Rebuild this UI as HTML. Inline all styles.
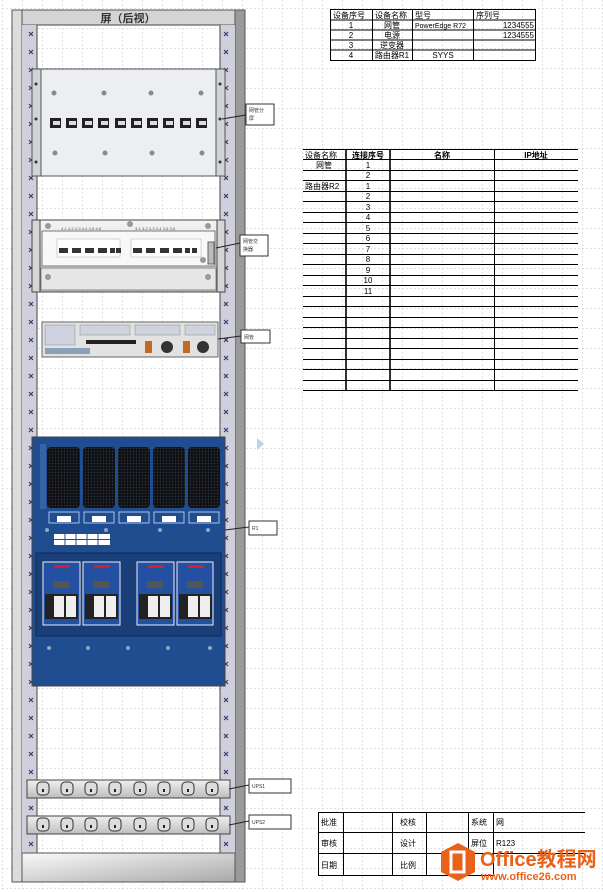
<!DOCTYPE html>
<html><head><meta charset="utf-8"><style>
html,body{margin:0;padding:0;background:#fff;width:603px;height:892px;overflow:hidden}
svg{display:block}
text{font-family:"Liberation Sans","Noto Sans CJK SC",sans-serif}
</style></head><body>
<svg width="603" height="892" viewBox="0 0 603 892" xmlns="http://www.w3.org/2000/svg">
<defs>
<pattern id="grid" x="2" y="8" width="20" height="20" patternUnits="userSpaceOnUse">
<path d="M0 0H20M0 0V20" stroke="#c4c4c4" stroke-width="1" stroke-dasharray="2,2" fill="none"/>
</pattern>
<pattern id="xmL" x="26" y="25" width="10" height="18" patternUnits="userSpaceOnUse">
<path d="M3 7L7 11M7 7L3 11" stroke="#3a3a6a" stroke-width="1.2"/>
</pattern>
<pattern id="xmR" x="221" y="25" width="10" height="18" patternUnits="userSpaceOnUse">
<path d="M3 7L7 11M7 7L3 11" stroke="#3a3a6a" stroke-width="1.2"/>
</pattern>
<pattern id="mesh" width="3" height="3" patternUnits="userSpaceOnUse">
<rect width="3" height="3" fill="#111"/><circle cx="1.5" cy="1.5" r="0.7" fill="#2b3550"/>
</pattern>
<linearGradient id="base" x1="0" y1="0" x2="1" y2="1"><stop offset="0" stop-color="#fafafa"/><stop offset="1" stop-color="#a9a9a9"/></linearGradient>
<linearGradient id="pdu" x1="0" y1="0" x2="0" y2="1"><stop offset="0" stop-color="#f0f0f0"/><stop offset="1" stop-color="#bdbdbd"/></linearGradient>
<linearGradient id="sw" x1="0" y1="0" x2="0" y2="1"><stop offset="0" stop-color="#f4f4f4"/><stop offset="1" stop-color="#c8c8c8"/></linearGradient>
</defs>
<rect width="603" height="892" fill="url(#grid)"/>

<!-- Rack -->
<rect x="12" y="10" width="233" height="872" fill="#c8c8c8" stroke="#555" stroke-width="1"/>
<rect x="12" y="10" width="10" height="872" fill="#dcdcdc" stroke="#555"/>
<rect x="235" y="10" width="10" height="872" fill="#9a9a9a" stroke="#555"/>
<rect x="22" y="10" width="213" height="15" fill="#d4d4d4" stroke="#555"/>
<text x="128" y="22" font-size="11" font-weight="bold" text-anchor="middle" fill="#333">屏（后视）</text>
<rect x="37" y="25" width="183" height="828" fill="#fff" stroke="#444"/>
<rect x="37" y="25" width="183" height="828" fill="url(#grid)"/>
<rect x="22" y="25" width="15" height="828" fill="#cfd0dc"/>
<rect x="220" y="25" width="15" height="828" fill="#cfd0dc"/>
<rect x="26" y="25" width="10" height="828" fill="url(#xmL)"/>
<rect x="221" y="25" width="10" height="828" fill="url(#xmR)"/>
<line x1="37" y1="25" x2="37" y2="853" stroke="#444"/><line x1="220" y1="25" x2="220" y2="853" stroke="#444"/>
<rect x="22" y="853" width="213" height="29" fill="url(#base)" stroke="#555"/>

<!-- Panel 1 -->
<rect x="32" y="69" width="193" height="107" fill="#d0d3d8" stroke="#555"/>
<rect x="41" y="69" width="175" height="107" fill="#eceef2" stroke="#555"/>
<g fill="#8a8a8a">
<circle cx="54" cy="93" r="2.5"/><circle cx="104" cy="93" r="2.5"/><circle cx="151" cy="93" r="2.5"/><circle cx="201" cy="93" r="2.5"/>
<circle cx="55" cy="153" r="2.5"/><circle cx="105" cy="153" r="2.5"/><circle cx="152" cy="153" r="2.5"/><circle cx="202" cy="153" r="2.5"/>
</g>
<g fill="#333"><circle cx="36" cy="84" r="1.5"/><circle cx="36" cy="119" r="1.5"/><circle cx="36" cy="162" r="1.5"/><circle cx="220" cy="84" r="1.5"/><circle cx="220" cy="119" r="1.5"/><circle cx="220" cy="162" r="1.5"/></g>
<g fill="#222">
<rect x="50" y="118" width="11" height="10"/><rect x="66" y="118" width="11" height="10"/><rect x="82" y="118" width="11" height="10"/><rect x="98" y="118" width="11" height="10"/><rect x="115" y="118" width="11" height="10"/><rect x="131" y="118" width="11" height="10"/><rect x="147" y="118" width="11" height="10"/><rect x="163" y="118" width="11" height="10"/><rect x="180" y="118" width="11" height="10"/><rect x="196" y="118" width="11" height="10"/>
</g>
<g fill="#ddd">
<rect x="53" y="121" width="7" height="4"/><rect x="69" y="121" width="7" height="4"/><rect x="85" y="121" width="7" height="4"/><rect x="101" y="121" width="7" height="4"/><rect x="118" y="121" width="7" height="4"/><rect x="134" y="121" width="7" height="4"/><rect x="150" y="121" width="7" height="4"/><rect x="166" y="121" width="7" height="4"/><rect x="183" y="121" width="7" height="4"/><rect x="199" y="121" width="7" height="4"/>
</g>
<line x1="222" y1="119" x2="246" y2="115" stroke="#222"/>
<rect x="246" y="104" width="28" height="21" fill="#fff" stroke="#333"/>
<text x="249" y="112" font-size="5" fill="#333">网管分</text><text x="249" y="120" font-size="5" fill="#333">屏</text>

<!-- Switch -->
<rect x="32" y="220" width="193" height="72" fill="#d6d6d6" stroke="#444"/>
<rect x="40" y="220" width="177" height="72" fill="url(#sw)" stroke="#444"/>
<rect x="42" y="231" width="173" height="35" fill="#f8f8f8" stroke="#777"/>
<rect x="41" y="268" width="175" height="22" fill="#e6e6e6" stroke="#888"/>
<g fill="#999"><circle cx="48" cy="226" r="3"/><circle cx="130" cy="224" r="3"/><circle cx="208" cy="226" r="3"/><circle cx="48" cy="277" r="3"/><circle cx="208" cy="277" r="3"/><circle cx="203" cy="260" r="3"/></g>
<g font-size="4" fill="#555"><text x="61" y="230">4-1 4-2 4-3 4-4 4-5 4-6</text><text x="135" y="230">3-1 3-2 3-3 3-4 3-5 3-6</text></g>
<g fill="#fff" stroke="#aaa" stroke-width="0.5"><rect x="57" y="239" width="63" height="18"/><rect x="131" y="239" width="70" height="18"/></g>
<g fill="#333">
<rect x="59" y="248" width="9" height="5"/><rect x="72" y="248" width="9" height="5"/><rect x="85" y="248" width="9" height="5"/><rect x="98" y="248" width="9" height="5"/><rect x="110" y="248" width="5" height="5"/><rect x="116" y="248" width="5" height="5"/>
<rect x="133" y="248" width="9" height="5"/><rect x="146" y="248" width="9" height="5"/><rect x="160" y="248" width="9" height="5"/><rect x="173" y="248" width="9" height="5"/><rect x="185" y="248" width="5" height="5"/><rect x="192" y="248" width="5" height="5"/>
</g>
<rect x="208" y="242" width="6" height="22" fill="#bbb" stroke="#666"/>
<line x1="216" y1="248" x2="240" y2="243" stroke="#222"/>
<rect x="240" y="235" width="28" height="21" fill="#fff" stroke="#333"/>
<text x="243" y="243" font-size="5" fill="#333">网管交</text><text x="243" y="251" font-size="5" fill="#333">换器</text>

<!-- Server -->
<rect x="42" y="322" width="176" height="35" fill="#e2e2e2" stroke="#666"/>
<g fill="#cfd3e0" stroke="#888" stroke-width="0.5">
<rect x="45" y="325" width="30" height="20"/><rect x="80" y="325" width="50" height="10"/><rect x="135" y="325" width="45" height="10"/><rect x="185" y="325" width="30" height="10"/>
</g>
<rect x="86" y="340" width="50" height="4" fill="#222"/>
<rect x="45" y="348" width="45" height="6" fill="#8aa0b8"/>
<g fill="#c46a20"><rect x="145" y="341" width="7" height="12"/><rect x="183" y="341" width="7" height="12"/></g>
<g fill="#333"><circle cx="167" cy="347" r="6"/><circle cx="203" cy="347" r="6"/></g>
<line x1="218" y1="339" x2="241" y2="336" stroke="#222"/>
<rect x="241" y="330" width="29" height="13" fill="#fff" stroke="#333"/>
<text x="244" y="339" font-size="5" fill="#333">网管</text>

<!-- Blue power unit -->
<rect x="32" y="437" width="193" height="249" fill="#1f4d8f" stroke="#444"/>
<rect x="40" y="444" width="6" height="65" fill="#3463a8"/>
<g fill="url(#mesh)">
<rect x="47" y="447" width="33" height="61" rx="4"/><rect x="83" y="447" width="32" height="61" rx="4"/><rect x="118" y="447" width="32" height="61" rx="4"/><rect x="153" y="447" width="32" height="61" rx="4"/><rect x="188" y="447" width="32" height="61" rx="4"/>
</g>
<g fill="none" stroke="#a8c4ec" stroke-width="1">
<rect x="49" y="512" width="30" height="11"/><rect x="84" y="512" width="30" height="11"/><rect x="119" y="512" width="30" height="11"/><rect x="154" y="512" width="30" height="11"/><rect x="189" y="512" width="30" height="11"/>
</g>
<g fill="#fff"><rect x="57" y="516" width="14" height="6"/><rect x="92" y="516" width="14" height="6"/><rect x="127" y="516" width="14" height="6"/><rect x="162" y="516" width="14" height="6"/><rect x="197" y="516" width="14" height="6"/></g>
<rect x="54" y="534" width="56" height="11" fill="#fff"/>
<g stroke="#1f4d8f" stroke-width="1"><line x1="54" y1="539.5" x2="110" y2="539.5"/><line x1="65" y1="534" x2="65" y2="545"/><line x1="76" y1="534" x2="76" y2="545"/><line x1="87" y1="534" x2="87" y2="545"/><line x1="98" y1="534" x2="98" y2="545"/></g>
<rect x="36" y="553" width="185" height="83" fill="#1a3f78" stroke="#0f2a55"/>
<g fill="#2350a0" stroke="#e8eef8" stroke-width="1">
<rect x="43" y="562" width="37" height="63"/><rect x="83" y="562" width="37" height="63"/><rect x="137" y="562" width="37" height="63"/><rect x="177" y="562" width="36" height="63"/>
</g>
<g fill="#d02030"><rect x="54" y="565" width="16" height="3"/><rect x="94" y="565" width="16" height="3"/><rect x="148" y="565" width="16" height="3"/><rect x="188" y="565" width="16" height="3"/></g>
<g fill="#555"><rect x="53" y="581" width="16" height="7"/><rect x="93" y="581" width="16" height="7"/><rect x="147" y="581" width="16" height="7"/><rect x="187" y="581" width="16" height="7"/></g>
<g fill="#222"><rect x="45" y="594" width="33" height="25"/><rect x="85" y="594" width="33" height="25"/><rect x="139" y="594" width="33" height="25"/><rect x="179" y="594" width="33" height="25"/></g>
<g fill="#eee">
<rect x="54" y="596" width="10" height="21"/><rect x="66" y="596" width="10" height="21"/><rect x="94" y="596" width="10" height="21"/><rect x="106" y="596" width="10" height="21"/><rect x="148" y="596" width="10" height="21"/><rect x="160" y="596" width="10" height="21"/><rect x="188" y="596" width="10" height="21"/><rect x="200" y="596" width="10" height="21"/>
</g>
<g fill="#8fa4c4"><circle cx="49" cy="648" r="2"/><circle cx="88" cy="648" r="2"/><circle cx="128" cy="648" r="2"/><circle cx="168" cy="648" r="2"/><circle cx="210" cy="648" r="2"/><circle cx="47" cy="530" r="2"/><circle cx="106" cy="530" r="2"/><circle cx="160" cy="530" r="2"/><circle cx="208" cy="530" r="2"/></g>
<line x1="225" y1="530" x2="249" y2="527" stroke="#222"/>
<rect x="249" y="521" width="28" height="14" fill="#fff" stroke="#333"/>
<text x="252" y="530" font-size="5" fill="#333">R1</text>

<polygon points="257,438 264,444 257,450" fill="#b9d3f0"/>

<!-- PDUs -->
<g>
<rect x="27" y="780" width="203" height="18" fill="url(#pdu)" stroke="#444"/>
<rect x="27" y="816" width="203" height="18" fill="url(#pdu)" stroke="#444"/>
<g fill="#ddd" stroke="#333" stroke-width="1">
<rect x="37" y="782" width="12" height="13" rx="4"/><rect x="61" y="782" width="12" height="13" rx="4"/><rect x="85" y="782" width="12" height="13" rx="4"/><rect x="109" y="782" width="12" height="13" rx="4"/><rect x="134" y="782" width="12" height="13" rx="4"/><rect x="158" y="782" width="12" height="13" rx="4"/><rect x="182" y="782" width="12" height="13" rx="4"/><rect x="206" y="782" width="12" height="13" rx="4"/>
<rect x="37" y="818" width="12" height="13" rx="4"/><rect x="61" y="818" width="12" height="13" rx="4"/><rect x="85" y="818" width="12" height="13" rx="4"/><rect x="109" y="818" width="12" height="13" rx="4"/><rect x="134" y="818" width="12" height="13" rx="4"/><rect x="158" y="818" width="12" height="13" rx="4"/><rect x="182" y="818" width="12" height="13" rx="4"/><rect x="206" y="818" width="12" height="13" rx="4"/>
</g>
<g fill="#222">
<rect x="42" y="789" width="2" height="3"/><rect x="66" y="789" width="2" height="3"/><rect x="90" y="789" width="2" height="3"/><rect x="114" y="789" width="2" height="3"/><rect x="139" y="789" width="2" height="3"/><rect x="163" y="789" width="2" height="3"/><rect x="187" y="789" width="2" height="3"/><rect x="211" y="789" width="2" height="3"/>
<rect x="42" y="825" width="2" height="3"/><rect x="66" y="825" width="2" height="3"/><rect x="90" y="825" width="2" height="3"/><rect x="114" y="825" width="2" height="3"/><rect x="139" y="825" width="2" height="3"/><rect x="163" y="825" width="2" height="3"/><rect x="187" y="825" width="2" height="3"/><rect x="211" y="825" width="2" height="3"/>
</g>
<line x1="229" y1="789" x2="249" y2="785" stroke="#222"/>
<rect x="249" y="779" width="42" height="14" fill="#fff" stroke="#333"/>
<text x="252" y="788" font-size="5" fill="#333">UPS1</text>
<line x1="229" y1="825" x2="249" y2="821" stroke="#222"/>
<rect x="249" y="815" width="42" height="14" fill="#fff" stroke="#333"/>
<text x="252" y="824" font-size="5" fill="#333">UPS2</text>
</g>

<!-- Top table -->
<g stroke="#000" stroke-width="1" fill="none">
<rect x="330.5" y="9.5" width="205" height="51"/>
<line x1="330" y1="20" x2="536" y2="20"/><line x1="330" y1="30" x2="536" y2="30"/><line x1="330" y1="40" x2="536" y2="40"/><line x1="330" y1="50" x2="536" y2="50"/>
<line x1="372.5" y1="9" x2="372.5" y2="60"/><line x1="412.5" y1="9" x2="412.5" y2="60"/><line x1="473.5" y1="9" x2="473.5" y2="60"/>
</g>
<g font-size="8" fill="#000">
<text x="333" y="18">设备序号</text><text x="375" y="18">设备名称</text><text x="415" y="18">型号</text><text x="476" y="18">序列号</text>
<text x="351" y="28" text-anchor="middle">1</text><text x="392" y="28" text-anchor="middle">网管</text><text x="415" y="28" font-size="7">PowerEdge R72</text><text x="534" y="28" text-anchor="end">1234555</text>
<text x="351" y="38" text-anchor="middle">2</text><text x="392" y="38" text-anchor="middle">电源</text><text x="534" y="38" text-anchor="end">1234555</text>
<text x="351" y="48" text-anchor="middle">3</text><text x="392" y="48" text-anchor="middle">逆变器</text>
<text x="351" y="58" text-anchor="middle">4</text><text x="392" y="58" text-anchor="middle">路由器R1</text><text x="443" y="58" text-anchor="middle">SYYS</text>
</g>

<!-- Middle table -->
<g stroke="#000" stroke-width="1" fill="none">
<line x1="303" y1="149.5" x2="578" y2="149.5"/>
<path d="M303 159.5H578M303 170.5H578M303 180.5H578M303 191.5H578M303 201.5H578M303 212.5H578M303 222.5H578M303 233.5H578M303 243.5H578M303 254.5H578M303 264.5H578M303 275.5H578M303 285.5H578M303 296.5H578M303 306.5H578M303 317.5H578M303 327.5H578M303 338.5H578M303 348.5H578M303 359.5H578M303 369.5H578M303 380.5H578M303 390.5H578"/>
<line x1="346" y1="149" x2="346" y2="391" stroke-width="1.6"/><line x1="390" y1="149" x2="390" y2="391" stroke-width="1.6"/><line x1="494.5" y1="149" x2="494.5" y2="391"/>
</g>
<g font-size="8" fill="#000">
<text x="305" y="158">设备名称</text><text x="368" y="158" text-anchor="middle" font-weight="bold">连接序号</text><text x="442" y="158" text-anchor="middle" font-weight="bold">名称</text><text x="536" y="158" text-anchor="middle" font-weight="bold">IP地址</text>
<text x="324" y="168" text-anchor="middle">网管</text><text x="368" y="168" text-anchor="middle">1</text>
<text x="368" y="178" text-anchor="middle">2</text>
<text x="305" y="189">路由器R2</text><text x="368" y="189" text-anchor="middle">1</text>
<text x="368" y="199" text-anchor="middle">2</text><text x="368" y="210" text-anchor="middle">3</text><text x="368" y="220" text-anchor="middle">4</text><text x="368" y="231" text-anchor="middle">5</text><text x="368" y="241" text-anchor="middle">6</text><text x="368" y="252" text-anchor="middle">7</text><text x="368" y="262" text-anchor="middle">8</text><text x="368" y="273" text-anchor="middle">9</text><text x="368" y="283" text-anchor="middle">10</text><text x="368" y="294" text-anchor="middle">11</text>
</g>

<!-- Bottom title table -->
<g stroke="#000" stroke-width="1" fill="none">
<path d="M318 812.5H585M318 832.5H585M318 853.5H585M318 875.5H493"/>
<path d="M318.5 812V876M343.5 812V876M392.5 812V876M426.5 812V876M468.5 812V876M493.5 812V876"/>
</g>
<g font-size="8" fill="#000">
<text x="321" y="825">批准</text><text x="321" y="846">审核</text><text x="321" y="868">日期</text>
<text x="400" y="825">校核</text><text x="400" y="846">设计</text><text x="400" y="868">比例</text>
<text x="471" y="825">系统</text><text x="471" y="846">屏位</text><text x="496" y="825">网</text><text x="496" y="846">R123</text>
</g>

<!-- Watermark -->
<polygon points="458,843 475,852 475,872 458,881 441,872 441,852" fill="#e8621a"/>
<rect x="451" y="852" width="13" height="20" fill="none" stroke="#fff" stroke-width="3"/>
<text x="480" y="866" font-size="20" font-weight="bold" fill="#e8621a">Office教程网</text>
<text x="481" y="880" font-size="11" font-weight="bold" fill="#e8621a">www.office26.com</text>
</svg>
</body></html>
